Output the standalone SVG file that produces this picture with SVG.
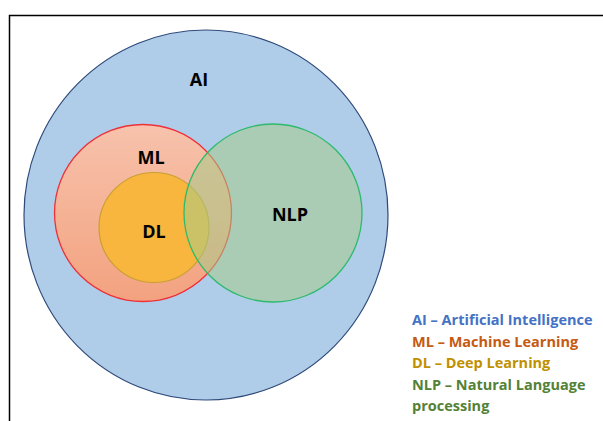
<svg xmlns="http://www.w3.org/2000/svg" width="603" height="421" viewBox="0 0 603 421">
<defs>
<linearGradient id="mlg" x1="0" y1="0" x2="0" y2="1">
<stop offset="0" stop-color="#F7C2AC"/>
<stop offset="1" stop-color="#F3A27F"/>
</linearGradient>
<style>
.lbl{font-family:"Open Sans","Liberation Sans",sans-serif;font-weight:bold;font-size:18px;fill:#000;text-anchor:middle}
.leg{font-family:"Open Sans","Liberation Sans",sans-serif;font-weight:bold;font-size:14.5px}
</style>
</defs>
<rect width="603" height="421" fill="#fff"/>
<rect x="9.5" y="15.5" width="620" height="420" fill="none" stroke="#000" stroke-width="1.5"/>
<g id="AI">
<ellipse cx="206" cy="215" rx="182" ry="185" fill="#AFCDE9" stroke="#2F4A7A" stroke-width="1.2"/>
<text class="lbl" x="199" y="86">AI</text>
</g>
<g id="ML">
<circle cx="143" cy="213" r="88.5" fill="url(#mlg)" stroke="#EE3038" stroke-width="1.3"/>
<text class="lbl" x="151" y="164">ML</text>
</g>
<g id="DL">
<circle cx="154" cy="227.5" r="55" fill="#F8B63E" stroke="#C9A032" stroke-width="1.2"/>
<text class="lbl" x="154" y="238">DL</text>
</g>
<g id="NLP">
<circle cx="273" cy="213" r="89" fill="#A5CB89" fill-opacity="0.55" stroke="#2DBA6C" stroke-width="1.3"/>
<text class="lbl" x="290" y="221">NLP</text>
</g>
<g id="legend" class="leg">
<text x="412" y="325" fill="#4472C4">AI – Artificial Intelligence</text>
<text x="412" y="347" fill="#C55A11">ML – Machine Learning</text>
<text x="412" y="368" fill="#BF9000">DL – Deep Learning</text>
<text x="412" y="390" fill="#538135">NLP – Natural Language</text>
<text x="412" y="411" fill="#538135">processing</text>
</g>
</svg>
